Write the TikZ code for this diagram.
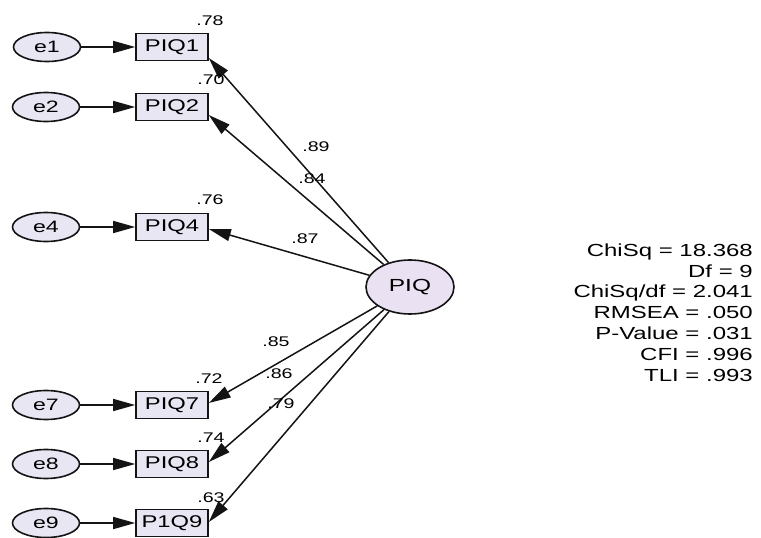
\documentclass[tikz,border=0pt]{standalone}
\usepackage{fontspec}
\usepackage{graphicx}
\setmainfont{Liberation Sans}
\usetikzlibrary{arrows.meta,shapes.geometric,calc}

\definecolor{boxfill}{RGB}{232,230,242}
\definecolor{latfill}{RGB}{234,226,242}
\definecolor{inkline}{RGB}{20,20,20}

% horizontally widened text
\newcommand\wtext[1]{\scalebox{1.4}[1]{#1}}

\tikzset{
  errvar/.style={ellipse, draw=inkline, line width=1.6pt, fill=boxfill,
    minimum width=67pt, minimum height=29pt, inner sep=0pt,
    font=\fontsize{16.5}{18}\selectfont},
  obsbox/.style={rectangle, draw=inkline, line width=1.6pt, fill=boxfill,
    minimum width=72pt, minimum height=27pt, inner sep=0pt,
    font=\fontsize{17}{18}\selectfont},
  latent/.style={ellipse, draw=inkline, line width=1.6pt, fill=latfill,
    minimum width=88pt, minimum height=54pt, inner sep=0pt,
    font=\fontsize{17.5}{19}\selectfont},
  coef/.style={inner sep=0pt, font=\fontsize{14}{15}\selectfont},
  path/.style={draw=inkline, line width=1.5pt,
    -{Triangle[length=22pt,width=12pt]}},
}

\begin{document}
\begin{tikzpicture}[x=1pt,y=-1pt]
\useasboundingbox[fill=white] (0,0) rectangle (761,538);

% error terms
\node[errvar] (e1) at (47,47)  {\wtext{e1}};
\node[errvar] (e2) at (46,107) {\wtext{e2}};
\node[errvar] (e4) at (46,227) {\wtext{e4}};
\node[errvar] (e7) at (46,405) {\wtext{e7}};
\node[errvar] (e8) at (46,464) {\wtext{e8}};
\node[errvar] (e9) at (46,523) {\wtext{e9}};

% observed indicators
\node[obsbox] (p1) at (172,47)  {\wtext{PIQ1}};
\node[obsbox] (p2) at (172,107) {\wtext{PIQ2}};
\node[obsbox] (p4) at (172,227) {\wtext{PIQ4}};
\node[obsbox] (p7) at (172,405) {\wtext{PIQ7}};
\node[obsbox] (p8) at (172,464) {\wtext{PIQ8}};
\node[obsbox] (p9) at (172,523) {\wtext{P1Q9}};

% latent factor
\node[latent] (piq) at (410,287) {\wtext{PIQ}};

% error paths
\foreach \i in {1,2,4,7,8,9}
  \draw[path] (e\i.east) -- (p\i.west);

% loading paths, ending on the right side of each box
\coordinate (t1) at ($(p1.east)+(0,11)$);
\coordinate (t2) at ($(p2.east)+(0,8)$);
\coordinate (t4) at ($(p4.east)+(0,2)$);
\coordinate (t7) at ($(p7.east)+(0,-2)$);
\coordinate (t8) at ($(p8.east)+(0,-2)$);
\coordinate (t9) at ($(p9.east)+(0,-1)$);
\foreach \t in {t1,t2,t4,t7,t8,t9}
  \draw[path] (piq) -- (\t);

% squared multiple correlations
\node[coef] (r1) at (210,21)  {\wtext{.78}};
\node[coef] (r2) at (211,80)  {\wtext{.70}};
\node[coef] (r4) at (210,200) {\wtext{.76}};
\node[coef] (r7) at (209,379) {\wtext{.72}};
\node[coef] (r8) at (211,438) {\wtext{.74}};
\node[coef] (r9) at (211,498) {\wtext{.63}};

% standardized loadings
\node[coef] (l1) at (316,147) {\wtext{.89}};
\node[coef] (l2) at (312,179) {\wtext{.84}};
\node[coef] (l4) at (305,239) {\wtext{.87}};
\node[coef] (l7) at (276,342) {\wtext{.85}};
\node[coef] (l8) at (279,374) {\wtext{.86}};
\node[coef] (l9) at (281,404) {\wtext{.79}};

% fit statistics
\node[anchor=east, inner sep=0pt] (fit) at (753,314.5) {%
  \fontsize{17.5}{20.8}\selectfont
  \scalebox{1.37}[1]{\begin{tabular}{@{}r@{}}
    ChiSq = 18.368\\
    Df = 9\\
    ChiSq/df = 2.041\\
    RMSEA = .050\\
    P-Value = .031\\
    CFI = .996\\
    TLI = .993
  \end{tabular}}};
\end{tikzpicture}
\end{document}
